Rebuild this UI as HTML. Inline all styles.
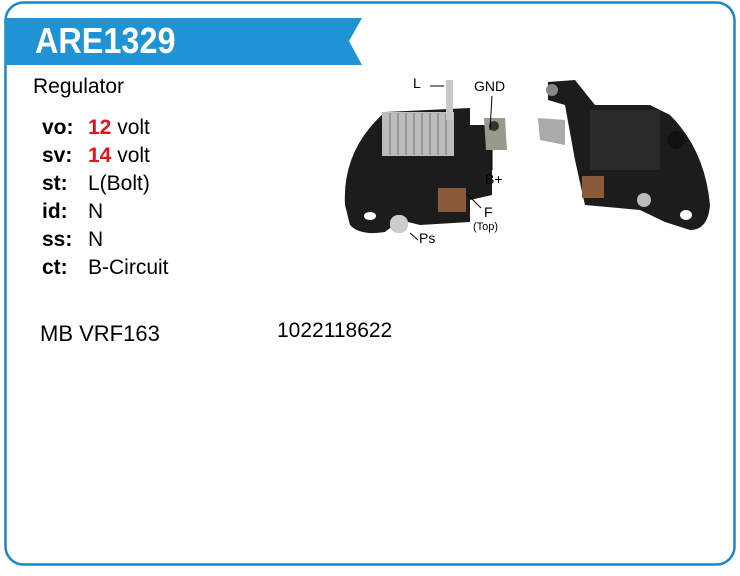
<!DOCTYPE html>
<html><head><meta charset="utf-8"><style>
body{margin:0;width:740px;height:576px;background:#fff;position:relative;overflow:hidden;font-family:"Liberation Sans",Arial,sans-serif}
.t{position:absolute;white-space:nowrap;color:#000}
.k{font-weight:bold;font-size:21px}
.v{font-size:21px}
.r{color:#e0141c;font-weight:bold}
</style></head><body>
<svg width="740" height="576" style="position:absolute;left:0;top:0">
<rect x="5.5" y="2.5" width="729" height="562" rx="18" fill="none" stroke="#1a86c8" stroke-width="2.5"/>
<polygon points="5,18 362,18 349,41 362,65 5,65" fill="#1f93d4"/>
<g>
<path d="M345,205 Q342,150 385,112 L470,108 L470,125 L492,125 L492,195 L470,200 L470,222 L420,225 L400,220 L385,232 Q360,236 350,225 Z" fill="#1c1c1c"/>
<rect x="382" y="112" width="72" height="44" fill="#bdbdbd"/>
<g stroke="#8a8a8a" stroke-width="1.5"><line x1="390" y1="113" x2="390" y2="155"/><line x1="398" y1="113" x2="398" y2="155"/><line x1="406" y1="113" x2="406" y2="155"/><line x1="414" y1="113" x2="414" y2="155"/><line x1="422" y1="113" x2="422" y2="155"/><line x1="430" y1="113" x2="430" y2="155"/><line x1="438" y1="113" x2="438" y2="155"/><line x1="446" y1="113" x2="446" y2="155"/></g>
<rect x="446" y="80" width="7" height="40" fill="#c8c8c8"/>
<path d="M484,118 L505,118 L507,150 L486,150 Z" fill="#9a9a8a"/>
<circle cx="494" cy="126" r="5" fill="#333"/>
<rect x="438" y="188" width="28" height="24" fill="#8a5a3a"/>
<rect x="390" y="215" width="18" height="18" rx="8" fill="#ccc"/>
<ellipse cx="370" cy="216" rx="6" ry="4" fill="#fff"/>
<line x1="410" y1="233" x2="418" y2="240" stroke="#000"/>
<line x1="466" y1="193" x2="481" y2="208" stroke="#000"/>
<line x1="492" y1="96" x2="490" y2="130" stroke="#000"/>
<line x1="492" y1="150" x2="492" y2="170" stroke="#000"/>
<line x1="430" y1="86" x2="444" y2="86" stroke="#000"/>
</g>
<g>
<path d="M548,82 L575,80 L595,105 L650,105 L670,115 Q705,150 710,205 Q708,230 690,230 L665,222 L640,210 L585,205 L575,160 L565,105 L548,100 Z" fill="#1c1c1c"/>
<rect x="590" y="110" width="70" height="60" fill="#2a2a2a"/>
<path d="M538,118 L565,120 L565,145 L540,140 Z" fill="#aaa"/>
<circle cx="552" cy="90" r="6" fill="#888"/>
<rect x="582" y="176" width="22" height="22" fill="#8a5a3a"/>
<circle cx="644" cy="200" r="7" fill="#bbb"/>
<ellipse cx="686" cy="215" rx="6" ry="5" fill="#fff"/>
<circle cx="676" cy="140" r="9" fill="#111"/>
</g>
</svg>
<div class="t" style="left:35px;top:19px;color:#fff;font-weight:bold;font-size:36px;line-height:44px;transform:scaleX(0.9);transform-origin:left">ARE1329</div>
<div class="t" style="left:33px;top:75px;font-size:21px">Regulator</div>
<div class="t k" style="left:42px;top:116px">vo:</div><div class="t v" style="left:88px;top:116px"><span class="r">12</span> volt</div>
<div class="t k" style="left:42px;top:144px">sv:</div><div class="t v" style="left:88px;top:144px"><span class="r">14</span> volt</div>
<div class="t k" style="left:42px;top:172px">st:</div><div class="t v" style="left:88px;top:172px">L(Bolt)</div>
<div class="t k" style="left:42px;top:200px">id:</div><div class="t v" style="left:88px;top:200px">N</div>
<div class="t k" style="left:42px;top:228px">ss:</div><div class="t v" style="left:88px;top:228px">N</div>
<div class="t k" style="left:42px;top:256px">ct:</div><div class="t v" style="left:88px;top:256px">B-Circuit</div>
<div class="t" style="left:40px;top:321px;font-size:22px">MB VRF163</div>
<div class="t v" style="left:277px;top:319px">1022118622</div>
<div class="t" style="left:413px;top:75px;font-size:14px">L</div>
<div class="t" style="left:474px;top:78px;font-size:14px">GND</div>
<div class="t" style="left:485px;top:171px;font-size:14px">B+</div>
<div class="t" style="left:484px;top:204px;font-size:14px">F</div>
<div class="t" style="left:473px;top:221px;font-size:11px">(Top)</div>
<div class="t" style="left:419px;top:230px;font-size:14px">Ps</div>
</body></html>
